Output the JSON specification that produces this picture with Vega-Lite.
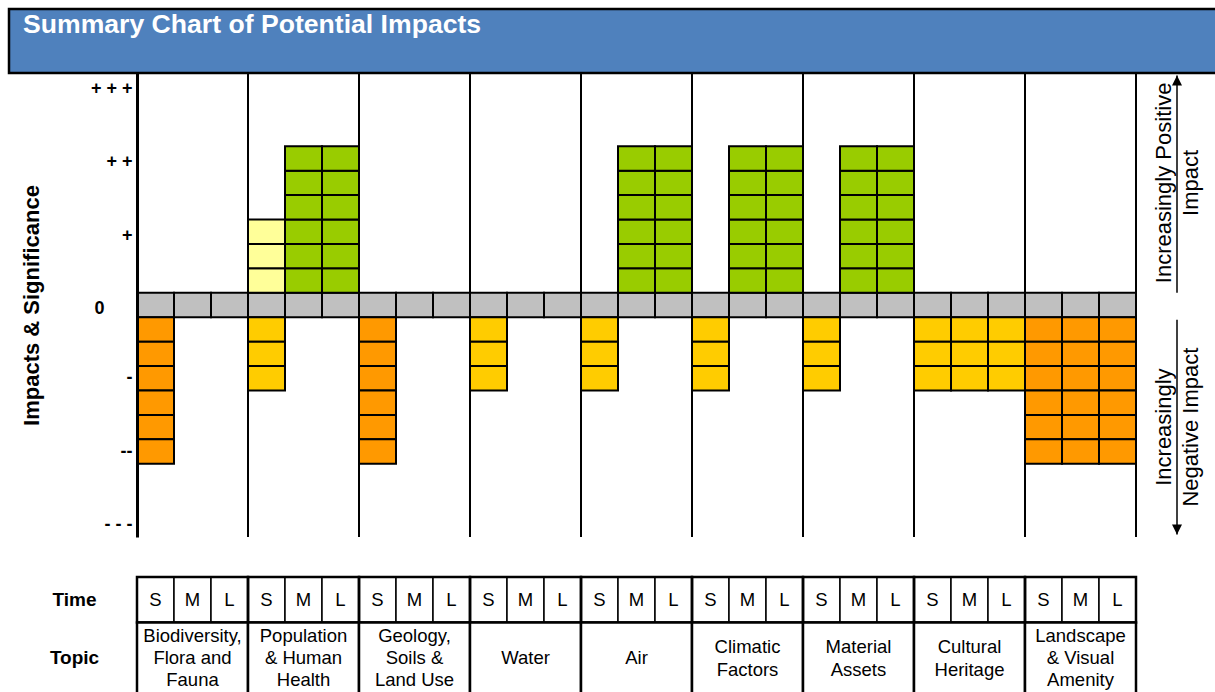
{
  "$schema": "https://vega.github.io/schema/vega-lite/v6.json",
  "width": 999,
  "height": 464,
  "autosize": "none",
  "padding": {"left": 137, "top": 73, "right": 79, "bottom": 155},
  "background": "white",
  "config": {"view": {"stroke": null}, "font": "Liberation Sans"},
  "datasets": {
    "banner": [{"title": "Summary Chart of Potential Impacts"}],
    "topics": [
      {"topic": "Biodiversity, Flora and Fauna", "label": ["Biodiversity,", "Flora and", "Fauna"]},
      {"topic": "Population & Human Health", "label": ["Population", "& Human", "Health"]},
      {"topic": "Geology, Soils & Land Use", "label": ["Geology,", "Soils &", "Land Use"]},
      {"topic": "Water", "label": ["Water"]},
      {"topic": "Air", "label": ["Air"]},
      {"topic": "Climatic Factors", "label": ["Climatic", "Factors"]},
      {"topic": "Material Assets", "label": ["Material", "Assets"]},
      {"topic": "Cultural Heritage", "label": ["Cultural", "Heritage"]},
      {"topic": "Landscape & Visual Amenity", "label": ["Landscape", "& Visual", "Amenity"]}
    ],
    "columns": [
      {"topic": "Biodiversity, Flora and Fauna", "time": "S"}, {"topic": "Biodiversity, Flora and Fauna", "time": "M"}, {"topic": "Biodiversity, Flora and Fauna", "time": "L"},
      {"topic": "Population & Human Health", "time": "S"}, {"topic": "Population & Human Health", "time": "M"}, {"topic": "Population & Human Health", "time": "L"},
      {"topic": "Geology, Soils & Land Use", "time": "S"}, {"topic": "Geology, Soils & Land Use", "time": "M"}, {"topic": "Geology, Soils & Land Use", "time": "L"},
      {"topic": "Water", "time": "S"}, {"topic": "Water", "time": "M"}, {"topic": "Water", "time": "L"},
      {"topic": "Air", "time": "S"}, {"topic": "Air", "time": "M"}, {"topic": "Air", "time": "L"},
      {"topic": "Climatic Factors", "time": "S"}, {"topic": "Climatic Factors", "time": "M"}, {"topic": "Climatic Factors", "time": "L"},
      {"topic": "Material Assets", "time": "S"}, {"topic": "Material Assets", "time": "M"}, {"topic": "Material Assets", "time": "L"},
      {"topic": "Cultural Heritage", "time": "S"}, {"topic": "Cultural Heritage", "time": "M"}, {"topic": "Cultural Heritage", "time": "L"},
      {"topic": "Landscape & Visual Amenity", "time": "S"}, {"topic": "Landscape & Visual Amenity", "time": "M"}, {"topic": "Landscape & Visual Amenity", "time": "L"}
    ],
    "annotations": [
      {"direction": "positive", "label": ["Increasingly Positive", "Impact"], "center": 5, "from": 0.5, "to": 9.4},
      {"direction": "negative", "label": ["Increasingly", "Negative Impact"], "center": -5, "from": -0.6, "to": -9.4}
    ],
    "cells": [
      {"topic": "Biodiversity, Flora and Fauna", "time": "S", "step": 0, "impact": "Neutral"},
      {"topic": "Biodiversity, Flora and Fauna", "time": "M", "step": 0, "impact": "Neutral"},
      {"topic": "Biodiversity, Flora and Fauna", "time": "L", "step": 0, "impact": "Neutral"},
      {"topic": "Population & Human Health", "time": "S", "step": 0, "impact": "Neutral"},
      {"topic": "Population & Human Health", "time": "M", "step": 0, "impact": "Neutral"},
      {"topic": "Population & Human Health", "time": "L", "step": 0, "impact": "Neutral"},
      {"topic": "Geology, Soils & Land Use", "time": "S", "step": 0, "impact": "Neutral"},
      {"topic": "Geology, Soils & Land Use", "time": "M", "step": 0, "impact": "Neutral"},
      {"topic": "Geology, Soils & Land Use", "time": "L", "step": 0, "impact": "Neutral"},
      {"topic": "Water", "time": "S", "step": 0, "impact": "Neutral"},
      {"topic": "Water", "time": "M", "step": 0, "impact": "Neutral"},
      {"topic": "Water", "time": "L", "step": 0, "impact": "Neutral"},
      {"topic": "Air", "time": "S", "step": 0, "impact": "Neutral"},
      {"topic": "Air", "time": "M", "step": 0, "impact": "Neutral"},
      {"topic": "Air", "time": "L", "step": 0, "impact": "Neutral"},
      {"topic": "Climatic Factors", "time": "S", "step": 0, "impact": "Neutral"},
      {"topic": "Climatic Factors", "time": "M", "step": 0, "impact": "Neutral"},
      {"topic": "Climatic Factors", "time": "L", "step": 0, "impact": "Neutral"},
      {"topic": "Material Assets", "time": "S", "step": 0, "impact": "Neutral"},
      {"topic": "Material Assets", "time": "M", "step": 0, "impact": "Neutral"},
      {"topic": "Material Assets", "time": "L", "step": 0, "impact": "Neutral"},
      {"topic": "Cultural Heritage", "time": "S", "step": 0, "impact": "Neutral"},
      {"topic": "Cultural Heritage", "time": "M", "step": 0, "impact": "Neutral"},
      {"topic": "Cultural Heritage", "time": "L", "step": 0, "impact": "Neutral"},
      {"topic": "Landscape & Visual Amenity", "time": "S", "step": 0, "impact": "Neutral"},
      {"topic": "Landscape & Visual Amenity", "time": "M", "step": 0, "impact": "Neutral"},
      {"topic": "Landscape & Visual Amenity", "time": "L", "step": 0, "impact": "Neutral"},

      {"topic": "Biodiversity, Flora and Fauna", "time": "S", "step": -1, "impact": "Major negative"},
      {"topic": "Biodiversity, Flora and Fauna", "time": "S", "step": -2, "impact": "Major negative"},
      {"topic": "Biodiversity, Flora and Fauna", "time": "S", "step": -3, "impact": "Major negative"},
      {"topic": "Biodiversity, Flora and Fauna", "time": "S", "step": -4, "impact": "Major negative"},
      {"topic": "Biodiversity, Flora and Fauna", "time": "S", "step": -5, "impact": "Major negative"},
      {"topic": "Biodiversity, Flora and Fauna", "time": "S", "step": -6, "impact": "Major negative"},

      {"topic": "Population & Human Health", "time": "S", "step": 1, "impact": "Minor positive"},
      {"topic": "Population & Human Health", "time": "S", "step": 2, "impact": "Minor positive"},
      {"topic": "Population & Human Health", "time": "S", "step": 3, "impact": "Minor positive"},
      {"topic": "Population & Human Health", "time": "S", "step": -1, "impact": "Minor negative"},
      {"topic": "Population & Human Health", "time": "S", "step": -2, "impact": "Minor negative"},
      {"topic": "Population & Human Health", "time": "S", "step": -3, "impact": "Minor negative"},
      {"topic": "Population & Human Health", "time": "M", "step": 1, "impact": "Major positive"},
      {"topic": "Population & Human Health", "time": "M", "step": 2, "impact": "Major positive"},
      {"topic": "Population & Human Health", "time": "M", "step": 3, "impact": "Major positive"},
      {"topic": "Population & Human Health", "time": "M", "step": 4, "impact": "Major positive"},
      {"topic": "Population & Human Health", "time": "M", "step": 5, "impact": "Major positive"},
      {"topic": "Population & Human Health", "time": "M", "step": 6, "impact": "Major positive"},
      {"topic": "Population & Human Health", "time": "L", "step": 1, "impact": "Major positive"},
      {"topic": "Population & Human Health", "time": "L", "step": 2, "impact": "Major positive"},
      {"topic": "Population & Human Health", "time": "L", "step": 3, "impact": "Major positive"},
      {"topic": "Population & Human Health", "time": "L", "step": 4, "impact": "Major positive"},
      {"topic": "Population & Human Health", "time": "L", "step": 5, "impact": "Major positive"},
      {"topic": "Population & Human Health", "time": "L", "step": 6, "impact": "Major positive"},

      {"topic": "Geology, Soils & Land Use", "time": "S", "step": -1, "impact": "Major negative"},
      {"topic": "Geology, Soils & Land Use", "time": "S", "step": -2, "impact": "Major negative"},
      {"topic": "Geology, Soils & Land Use", "time": "S", "step": -3, "impact": "Major negative"},
      {"topic": "Geology, Soils & Land Use", "time": "S", "step": -4, "impact": "Major negative"},
      {"topic": "Geology, Soils & Land Use", "time": "S", "step": -5, "impact": "Major negative"},
      {"topic": "Geology, Soils & Land Use", "time": "S", "step": -6, "impact": "Major negative"},

      {"topic": "Water", "time": "S", "step": -1, "impact": "Minor negative"},
      {"topic": "Water", "time": "S", "step": -2, "impact": "Minor negative"},
      {"topic": "Water", "time": "S", "step": -3, "impact": "Minor negative"},

      {"topic": "Air", "time": "S", "step": -1, "impact": "Minor negative"},
      {"topic": "Air", "time": "S", "step": -2, "impact": "Minor negative"},
      {"topic": "Air", "time": "S", "step": -3, "impact": "Minor negative"},
      {"topic": "Air", "time": "M", "step": 1, "impact": "Major positive"},
      {"topic": "Air", "time": "M", "step": 2, "impact": "Major positive"},
      {"topic": "Air", "time": "M", "step": 3, "impact": "Major positive"},
      {"topic": "Air", "time": "M", "step": 4, "impact": "Major positive"},
      {"topic": "Air", "time": "M", "step": 5, "impact": "Major positive"},
      {"topic": "Air", "time": "M", "step": 6, "impact": "Major positive"},
      {"topic": "Air", "time": "L", "step": 1, "impact": "Major positive"},
      {"topic": "Air", "time": "L", "step": 2, "impact": "Major positive"},
      {"topic": "Air", "time": "L", "step": 3, "impact": "Major positive"},
      {"topic": "Air", "time": "L", "step": 4, "impact": "Major positive"},
      {"topic": "Air", "time": "L", "step": 5, "impact": "Major positive"},
      {"topic": "Air", "time": "L", "step": 6, "impact": "Major positive"},

      {"topic": "Climatic Factors", "time": "S", "step": -1, "impact": "Minor negative"},
      {"topic": "Climatic Factors", "time": "S", "step": -2, "impact": "Minor negative"},
      {"topic": "Climatic Factors", "time": "S", "step": -3, "impact": "Minor negative"},
      {"topic": "Climatic Factors", "time": "M", "step": 1, "impact": "Major positive"},
      {"topic": "Climatic Factors", "time": "M", "step": 2, "impact": "Major positive"},
      {"topic": "Climatic Factors", "time": "M", "step": 3, "impact": "Major positive"},
      {"topic": "Climatic Factors", "time": "M", "step": 4, "impact": "Major positive"},
      {"topic": "Climatic Factors", "time": "M", "step": 5, "impact": "Major positive"},
      {"topic": "Climatic Factors", "time": "M", "step": 6, "impact": "Major positive"},
      {"topic": "Climatic Factors", "time": "L", "step": 1, "impact": "Major positive"},
      {"topic": "Climatic Factors", "time": "L", "step": 2, "impact": "Major positive"},
      {"topic": "Climatic Factors", "time": "L", "step": 3, "impact": "Major positive"},
      {"topic": "Climatic Factors", "time": "L", "step": 4, "impact": "Major positive"},
      {"topic": "Climatic Factors", "time": "L", "step": 5, "impact": "Major positive"},
      {"topic": "Climatic Factors", "time": "L", "step": 6, "impact": "Major positive"},

      {"topic": "Material Assets", "time": "S", "step": -1, "impact": "Minor negative"},
      {"topic": "Material Assets", "time": "S", "step": -2, "impact": "Minor negative"},
      {"topic": "Material Assets", "time": "S", "step": -3, "impact": "Minor negative"},
      {"topic": "Material Assets", "time": "M", "step": 1, "impact": "Major positive"},
      {"topic": "Material Assets", "time": "M", "step": 2, "impact": "Major positive"},
      {"topic": "Material Assets", "time": "M", "step": 3, "impact": "Major positive"},
      {"topic": "Material Assets", "time": "M", "step": 4, "impact": "Major positive"},
      {"topic": "Material Assets", "time": "M", "step": 5, "impact": "Major positive"},
      {"topic": "Material Assets", "time": "M", "step": 6, "impact": "Major positive"},
      {"topic": "Material Assets", "time": "L", "step": 1, "impact": "Major positive"},
      {"topic": "Material Assets", "time": "L", "step": 2, "impact": "Major positive"},
      {"topic": "Material Assets", "time": "L", "step": 3, "impact": "Major positive"},
      {"topic": "Material Assets", "time": "L", "step": 4, "impact": "Major positive"},
      {"topic": "Material Assets", "time": "L", "step": 5, "impact": "Major positive"},
      {"topic": "Material Assets", "time": "L", "step": 6, "impact": "Major positive"},

      {"topic": "Cultural Heritage", "time": "S", "step": -1, "impact": "Minor negative"},
      {"topic": "Cultural Heritage", "time": "S", "step": -2, "impact": "Minor negative"},
      {"topic": "Cultural Heritage", "time": "S", "step": -3, "impact": "Minor negative"},
      {"topic": "Cultural Heritage", "time": "M", "step": -1, "impact": "Minor negative"},
      {"topic": "Cultural Heritage", "time": "M", "step": -2, "impact": "Minor negative"},
      {"topic": "Cultural Heritage", "time": "M", "step": -3, "impact": "Minor negative"},
      {"topic": "Cultural Heritage", "time": "L", "step": -1, "impact": "Minor negative"},
      {"topic": "Cultural Heritage", "time": "L", "step": -2, "impact": "Minor negative"},
      {"topic": "Cultural Heritage", "time": "L", "step": -3, "impact": "Minor negative"},

      {"topic": "Landscape & Visual Amenity", "time": "S", "step": -1, "impact": "Major negative"},
      {"topic": "Landscape & Visual Amenity", "time": "S", "step": -2, "impact": "Major negative"},
      {"topic": "Landscape & Visual Amenity", "time": "S", "step": -3, "impact": "Major negative"},
      {"topic": "Landscape & Visual Amenity", "time": "S", "step": -4, "impact": "Major negative"},
      {"topic": "Landscape & Visual Amenity", "time": "S", "step": -5, "impact": "Major negative"},
      {"topic": "Landscape & Visual Amenity", "time": "S", "step": -6, "impact": "Major negative"},
      {"topic": "Landscape & Visual Amenity", "time": "M", "step": -1, "impact": "Major negative"},
      {"topic": "Landscape & Visual Amenity", "time": "M", "step": -2, "impact": "Major negative"},
      {"topic": "Landscape & Visual Amenity", "time": "M", "step": -3, "impact": "Major negative"},
      {"topic": "Landscape & Visual Amenity", "time": "M", "step": -4, "impact": "Major negative"},
      {"topic": "Landscape & Visual Amenity", "time": "M", "step": -5, "impact": "Major negative"},
      {"topic": "Landscape & Visual Amenity", "time": "M", "step": -6, "impact": "Major negative"},
      {"topic": "Landscape & Visual Amenity", "time": "L", "step": -1, "impact": "Major negative"},
      {"topic": "Landscape & Visual Amenity", "time": "L", "step": -2, "impact": "Major negative"},
      {"topic": "Landscape & Visual Amenity", "time": "L", "step": -3, "impact": "Major negative"},
      {"topic": "Landscape & Visual Amenity", "time": "L", "step": -4, "impact": "Major negative"},
      {"topic": "Landscape & Visual Amenity", "time": "L", "step": -5, "impact": "Major negative"},
      {"topic": "Landscape & Visual Amenity", "time": "L", "step": -6, "impact": "Major negative"}
    ]
  },
  "layer": [
    {
      "data": {"name": "banner"},
      "encoding": {
        "x": {"field": "title", "type": "nominal", "axis": null, "scale": {"range": [-128, 1100], "paddingInner": 0, "paddingOuter": 0}},
        "y": {"field": "title", "type": "nominal", "axis": null, "scale": {"range": [-64, 0], "paddingInner": 0, "paddingOuter": 0}}
      },
      "layer": [
        {"mark": {"type": "rect", "fill": "#4F81BD", "stroke": "black", "strokeWidth": 2.5}},
        {
          "mark": {"type": "text", "align": "left", "baseline": "alphabetic", "dx": 14, "dy": 24, "color": "white", "fontSize": 26.6, "fontWeight": "bold"},
          "encoding": {
            "text": {"field": "title"},
            "x": {"field": "title", "type": "nominal", "bandPosition": 0},
            "y": {"field": "title", "type": "nominal", "bandPosition": 0}
          }
        }
      ]
    },
    {
      "layer": [
        {
          "data": {"name": "topics"},
          "mark": {"type": "rule", "stroke": "black", "strokeWidth": 2},
          "encoding": {
            "x": {"field": "topic", "type": "nominal", "bandPosition": 0, "axis": null, "scale": {"domain": ["Biodiversity, Flora and Fauna", "Population & Human Health", "Geology, Soils & Land Use", "Water", "Air", "Climatic Factors", "Material Assets", "Cultural Heritage", "Landscape & Visual Amenity"], "paddingInner": 0, "paddingOuter": 0}}
          }
        },
        {
          "data": {"name": "topics"},
          "transform": [{"filter": "datum.topic === 'Landscape & Visual Amenity'"}],
          "mark": {"type": "rule", "stroke": "black", "strokeWidth": 2},
          "encoding": {
            "x": {"field": "topic", "type": "nominal", "bandPosition": 1, "axis": null}
          }
        },
        {
          "data": {"name": "cells"},
          "mark": {"type": "rect", "stroke": "black", "strokeWidth": 2},
          "encoding": {
            "x": {"field": "topic", "type": "nominal", "axis": null},
            "xOffset": {"field": "time", "type": "nominal", "scale": {"domain": ["S", "M", "L"], "paddingInner": 0, "paddingOuter": 0}},
            "y": {
              "field": "step", "type": "ordinal",
              "scale": {"domain": [9, 8, 7, 6, 5, 4, 3, 2, 1, 0, -1, -2, -3, -4, -5, -6, -7, -8, -9], "paddingInner": 0, "paddingOuter": 0},
              "axis": {
                "orient": "left",
                "values": [9, 6, 3, 0, -3, -6, -9],
                "labelExpr": "datum.value == 9 ? '+ + +' : datum.value == 6 ? '+ +' : datum.value == 3 ? '+' : datum.value == 0 ? '0' : datum.value == -3 ? '-' : datum.value == -6 ? '--' : '- - -'",
                "ticks": false,
                "grid": false,
                "domainColor": "black",
                "domainWidth": 3,
                "labelFontSize": 18,
                "labelFontWeight": "bold",
                "labelColor": "black",
                "labelPadding": {"condition": {"test": "datum.value == 0", "value": 33}, "value": 5},
                "labelOffset": {"condition": {"test": "datum.value >= 0", "value": 4}, "value": 0},
                "title": "Impacts & Significance",
                "titleFontSize": 22,
                "titleFontWeight": "bold",
                "titleColor": "black",
                "titlePadding": 47
              }
            },
            "color": {
              "field": "impact", "type": "nominal", "legend": null,
              "scale": {"domain": ["Major negative", "Minor negative", "Neutral", "Minor positive", "Major positive"], "range": ["#FF9900", "#FFCC00", "#C0C0C0", "#FFFF99", "#99CC00"]}
            }
          }
        }
      ]
    },
    {
      "data": {"name": "annotations"},
      "encoding": {
        "x": {"datum": "Impact direction", "type": "nominal", "axis": null, "scale": {"domain": ["Impact direction"], "range": [1016, 1064], "paddingInner": 0, "paddingOuter": 0}}
      },
      "layer": [
        {
          "mark": {"type": "rule", "stroke": "black", "strokeWidth": 1.5},
          "encoding": {
            "y": {"field": "from", "type": "quantitative", "axis": null, "scale": {"domain": [-9.5, 9.5], "nice": false, "zero": false}},
            "y2": {"field": "to"}
          }
        },
        {
          "mark": {"type": "point", "filled": true, "color": "black", "opacity": 1, "size": 493, "strokeWidth": 0},
          "encoding": {
            "y": {"field": "to", "type": "quantitative"},
            "shape": {"field": "direction", "type": "nominal", "legend": null, "scale": {"domain": ["positive", "negative"], "range": ["M0,0L0.45,0.9L-0.45,0.9Z", "M0,0L0.45,-0.9L-0.45,-0.9Z"]}}
          }
        },
        {
          "mark": {"type": "text", "angle": 270, "align": "center", "baseline": "middle", "fontSize": 22, "lineHeight": 27, "color": "black"},
          "encoding": {
            "x": {"datum": "Impact direction", "type": "nominal", "bandPosition": 0.22},
            "y": {"field": "center", "type": "quantitative"},
            "text": {"field": "label"}
          }
        }
      ]
    },
    {
      "data": {"name": "columns"},
      "encoding": {
        "x": {"field": "topic", "type": "nominal", "axis": null, "scale": {"domain": ["Biodiversity, Flora and Fauna", "Population & Human Health", "Geology, Soils & Land Use", "Water", "Air", "Climatic Factors", "Material Assets", "Cultural Heritage", "Landscape & Visual Amenity"], "paddingInner": 0, "paddingOuter": 0}},
        "y": {
          "datum": "Time", "type": "nominal",
          "scale": {"domain": ["Time"], "range": [504, 549.5], "paddingInner": 0, "paddingOuter": 0},
          "axis": {"orient": "left", "domain": false, "ticks": false, "grid": false, "title": null, "labelFontSize": 19, "labelFontWeight": "bold", "labelColor": "black", "labelAlign": "center", "labelPadding": 63}
        }
      },
      "layer": [
        {
          "mark": {"type": "rect", "fill": "white", "stroke": "black", "strokeWidth": 1.5},
          "encoding": {"xOffset": {"field": "time", "type": "nominal", "scale": {"domain": ["S", "M", "L"], "paddingInner": 0, "paddingOuter": 0}}}
        },
        {
          "mark": {"type": "text", "fontSize": 18.5, "color": "black", "baseline": "middle"},
          "encoding": {
            "xOffset": {"field": "time", "type": "nominal"},
            "text": {"field": "time"}
          }
        },
        {
          "data": {"name": "topics"},
          "mark": {"type": "rect", "filled": false, "stroke": "black", "strokeWidth": 2.5}
        }
      ]
    },
    {
      "data": {"name": "topics"},
      "encoding": {
        "x": {"field": "topic", "type": "nominal", "axis": null, "scale": {"domain": ["Biodiversity, Flora and Fauna", "Population & Human Health", "Geology, Soils & Land Use", "Water", "Air", "Climatic Factors", "Material Assets", "Cultural Heritage", "Landscape & Visual Amenity"], "paddingInner": 0, "paddingOuter": 0}},
        "y": {
          "datum": "Topic", "type": "nominal",
          "scale": {"domain": ["Topic"], "range": [549.5, 620.5], "paddingInner": 0, "paddingOuter": 0},
          "axis": {"orient": "left", "domain": false, "ticks": false, "grid": false, "title": null, "labelFontSize": 19, "labelFontWeight": "bold", "labelColor": "black", "labelAlign": "center", "labelPadding": 63}
        }
      },
      "layer": [
        {"mark": {"type": "rect", "fill": "white", "stroke": "black", "strokeWidth": 2.5}},
        {
          "transform": [{"filter": "length(datum.label) == 1"}],
          "mark": {"type": "text", "fontSize": 18.5, "lineHeight": 22, "color": "black", "baseline": "middle"},
          "encoding": {"text": {"field": "label"}}
        },
        {
          "transform": [{"filter": "length(datum.label) == 2"}],
          "mark": {"type": "text", "fontSize": 18.5, "lineHeight": 23, "color": "black", "baseline": "middle", "dy": -11.5},
          "encoding": {"text": {"field": "label"}}
        },
        {
          "transform": [{"filter": "length(datum.label) == 3"}],
          "mark": {"type": "text", "fontSize": 18.5, "lineHeight": 22, "color": "black", "baseline": "middle", "dy": -22},
          "encoding": {"text": {"field": "label"}}
        }
      ]
    }
  ],
  "resolve": {"scale": {"x": "independent", "y": "independent", "xOffset": "independent"}}
}
